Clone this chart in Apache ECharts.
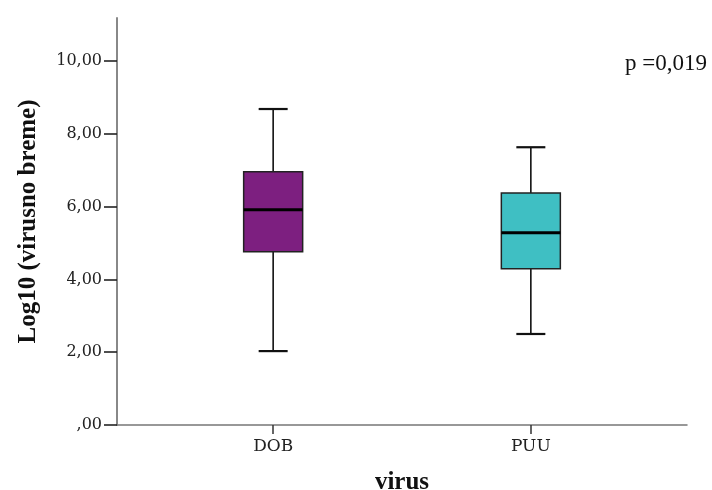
<!DOCTYPE html>
<html>
<head>
<meta charset="utf-8">
<script src="https://cdn.jsdelivr.net/npm/echarts@6/dist/echarts.min.js"></script>
<style>
  html, body { margin: 0; padding: 0; background: #fff; }
  #box { width: 712px; height: 490px; }
</style>
</head>
<body>
<div id="box"></div>
<script>
// viruses on the x axis
var categories = ["DOB", "PUU"];
// [min, Q1, median, Q3, max] of log10 viral load
var dobStats = [2.03, 4.76, 5.91, 6.96, 8.68];
var puuStats = [2.50, 4.29, 5.28, 6.37, 7.63];
var yTicks = [0, 2, 4, 6, 8, 10];
var pText = "p =0,019";

var boxColors = ["#7d1f80", "#3fbfc3"];
var stats = [dobStats, puuStats];
var boxData = stats.map(function (s, i) {
  return [i].concat(s);
});

function fmtY(v) {
  var s = v.toFixed(2).replace(".", ",");
  if (s.indexOf("0,") === 0) s = s.slice(1);
  return s;
}

var chart = echarts.init(document.getElementById("box"));
var option = {
  backgroundColor: "#fff",
  animation: false,
  title: {
    text: pText,
    right: 0,
    top: 47,
    textStyle: {
      fontFamily: "Liberation Serif",
      fontSize: 23,
      fontWeight: "normal",
      color: "#111"
    }
  },
  grid: {
    left: 117,
    right: 25,
    top: 18,
    bottom: 65,
    outerBoundsMode: "none"
  },
  xAxis: {
    type: "value",
    min: -0.606,
    max: 1.606,
    name: "virus",
    nameLocation: "middle",
    nameGap: 45,
    nameTextStyle: {
      fontFamily: "Liberation Serif",
      fontSize: 25,
      fontWeight: "bold",
      color: "#111"
    },
    splitLine: { show: false },
    axisLine: { onZero: false, lineStyle: { color: "#777", width: 1.5 } },
    axisTick: {
      customValues: [0, 1],
      length: 9,
      lineStyle: { color: "#333", width: 1.5 }
    },
    axisLabel: {
      customValues: [0, 1],
      margin: 13,
      fontFamily: "DejaVu Serif",
      fontSize: 17,
      color: "#222",
      formatter: function (v) {
        return categories[Math.round(v)];
      }
    }
  },
  yAxis: {
    type: "value",
    min: 0,
    max: 11.18,
    name: "Log10 (virusno breme)",
    nameLocation: "middle",
    nameGap: 76,
    nameTextStyle: {
      fontFamily: "Liberation Serif",
      fontSize: 25,
      fontWeight: "bold",
      color: "#111"
    },
    splitLine: { show: false },
    axisLine: { show: true, onZero: false, lineStyle: { color: "#888", width: 2 } },
    axisTick: {
      show: true,
      customValues: yTicks,
      length: 13,
      lineStyle: { color: "#222", width: 1.6 }
    },
    axisLabel: {
      customValues: yTicks,
      margin: 15,
      fontFamily: "DejaVu Serif",
      fontSize: 16,
      color: "#222",
      formatter: fmtY
    }
  },
  series: [
    {
      type: "custom",
      data: boxData,
      encode: { x: 0, y: [1, 2, 3, 4, 5] },
      renderItem: function (params, api) {
        var x = api.value(0);
        var pMin = api.coord([x, api.value(1)]);
        var pQ1 = api.coord([x, api.value(2)]);
        var pMed = api.coord([x, api.value(3)]);
        var pQ3 = api.coord([x, api.value(4)]);
        var pMax = api.coord([x, api.value(5)]);
        var cx = pMin[0];
        var halfBox = 29.5;
        var halfCap = 14.5;
        var line = { stroke: "#111", lineWidth: 1.6 };
        return {
          type: "group",
          children: [
            { type: "line", shape: { x1: cx, y1: pMax[1], x2: cx, y2: pQ3[1] }, style: line },
            { type: "line", shape: { x1: cx, y1: pQ1[1], x2: cx, y2: pMin[1] }, style: line },
            { type: "line", shape: { x1: cx - halfCap, y1: pMax[1], x2: cx + halfCap, y2: pMax[1] }, style: { stroke: "#111", lineWidth: 2.2 } },
            { type: "line", shape: { x1: cx - halfCap, y1: pMin[1], x2: cx + halfCap, y2: pMin[1] }, style: { stroke: "#111", lineWidth: 2.2 } },
            {
              type: "rect",
              shape: { x: cx - halfBox, y: pQ3[1], width: halfBox * 2, height: pQ1[1] - pQ3[1] },
              style: { fill: boxColors[params.dataIndex], stroke: "#222", lineWidth: 1.5 }
            },
            { type: "line", shape: { x1: cx - halfBox, y1: pMed[1], x2: cx + halfBox, y2: pMed[1] }, style: { stroke: "#000", lineWidth: 3 } }
          ]
        };
      }
    }
  ]
};
chart.setOption(option);
</script>
</body>
</html>
